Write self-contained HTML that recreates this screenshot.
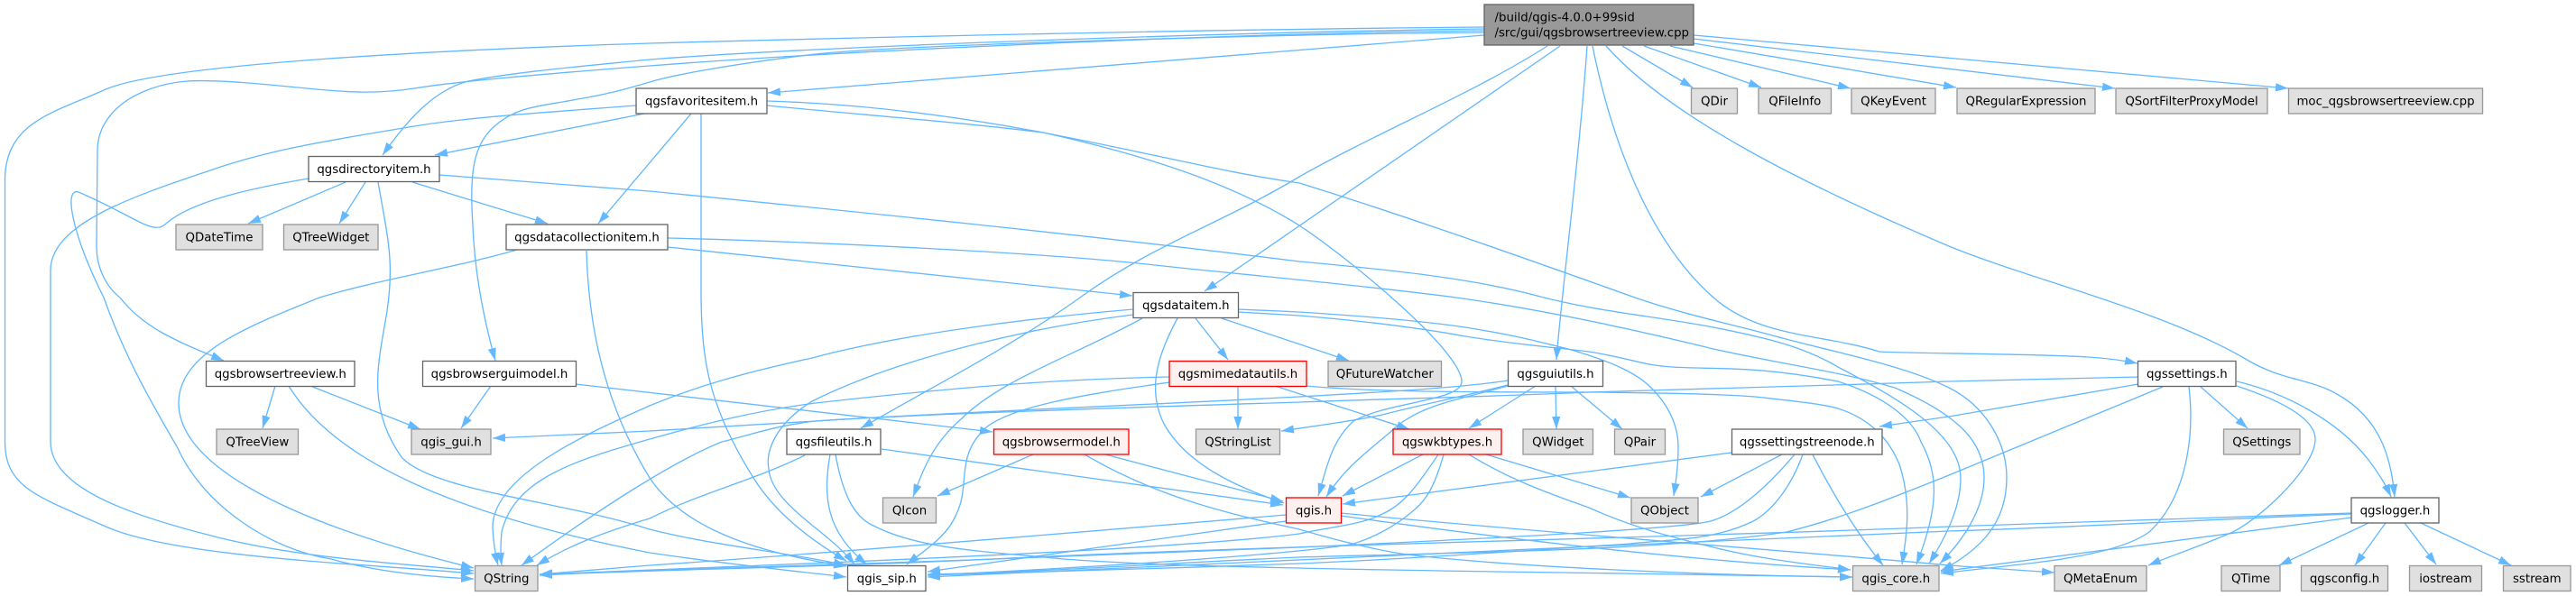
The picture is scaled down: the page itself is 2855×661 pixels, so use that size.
<!DOCTYPE html>
<html><head><meta charset="utf-8"><style>
html,body{margin:0;padding:0;background:#fff;width:2855px;height:661px;overflow:hidden}
svg{display:block}
.e path{fill:none;stroke:#63b8ff;stroke-width:1.33;marker-end:url(#a)}
text{font-family:"DejaVu Sans",sans-serif;font-size:13.33px;fill:#000;text-anchor:middle}
rect{stroke-width:1.33}
.w{fill:#fff;stroke:#666}.g{fill:#e0e0e0;stroke:#999}.r{fill:#fff0f0;stroke:#f00}
</style></head><body>
<svg width="2855" height="661" viewBox="0 0 2855 661" xmlns="http://www.w3.org/2000/svg">
<defs><marker id="a" markerUnits="userSpaceOnUse" markerWidth="15" markerHeight="11" refX="14" refY="5" orient="auto"><path d="M0,0.4L14,5L0,9.6Z" fill="#63b8ff"/></marker></defs>
<g class="e">
<path d="M1877,39L2536,98"/>
<path d="M1877,43L2344,98"/>
<path d="M1877,48L2168,97"/>
<path d="M1851,51L2051,98"/>
<path d="M1822,51L1952,97"/>
<path d="M1798,51L1876,97"/>
<path d="M1780,51C1850,130 2000,205 2160,273C2250,310 2400,345 2492,400C2530,422 2560,420 2590,437C2640,465 2650,510 2654,551"/>
<path d="M1765,51C1785,150 1825,265 1899,330C1950,375 2020,370 2083,390C2110,392 2250,392 2315,396Q2345,398 2369,403"/>
<path d="M1759,51C1750,180 1730,330 1725,399"/>
<path d="M1729,51L1335,323"/>
<path d="M1715,51C1630,105 1530,145 1440,196C1350,250 1280,270 1197,330C1120,385 1040,425 954,475"/>
<path d="M1645,39L851,103"/>
<path d="M1645,36C1400,38 1000,50 904,60C820,70 750,82 720,91C690,100 670,105 640,110C600,118 574,117 548,140C525,160 520,190 524,250C526,300 535,350 549,400"/>
<path d="M1645,34C1400,36 950,55 720,73C590,83 510,90 459,98C420,104 390,103 340,98C290,93 240,88 207,90C150,95 108,125 108,167L107,273C107,300 120,320 133,330C160,365 200,380 248,400"/>
<path d="M1645,32C1350,36 900,52 720,66C640,74 570,80 519,90C480,100 450,135 424,172"/>
<path d="M1645,30C1300,33 900,43 720,48C500,55 180,70 115,100C60,125 5.5,135 5.5,200L5.5,490C5.5,540 40,550 115,583C190,618 400,625 525,636"/>
<path d="M457,202L607,248"/>
<path d="M383,202L275,248"/>
<path d="M405,202L376,248"/>
<path d="M419,202C430,265 437,290 429,345C420,400 405,450 445,507C480,545 620,555 720,587C790,605 870,612 938,627"/>
<path d="M342,198C270,210 210,225 184,248C170,262 150,240 87,213C70,208 80,260 115,330C140,400 170,450 197,497C225,560 300,610 367,620C420,635 480,640 525,642"/>
<path d="M487,194L720,212C950,235 1200,260 1440,290C1550,300 1640,310 1711,330C1780,347 1830,350 1899,363C1960,375 2000,385 2037,407C2100,440 2173,480 2173,530C2173,560 2160,590 2138,625"/>
<path d="M740,274L1255,328"/>
<path d="M740,264C900,268 1150,280 1271,293C1350,302 1500,315 1614,330C1720,345 1830,370 1899,387C1980,405 2040,412 2100,430C2170,460 2199,490 2199,530C2199,565 2175,600 2150,625"/>
<path d="M650,278C652,350 665,440 720,530C760,590 850,615 938,628"/>
<path d="M573,277C500,298 420,310 354,330C280,360 198,390 198,447C198,510 300,575 525,630"/>
<path d="M714,126L482,172"/>
<path d="M766,126L663,248"/>
<path d="M777,126L777,330C778,400 785,450 835,530C860,570 900,600 938,622"/>
<path d="M705,117C600,125 520,130 459,140C370,155 300,165 230,190C140,220 56,250 56,300L56,490C56,540 140,570 230,593C330,620 450,625 525,633"/>
<path d="M850,112C950,115 1050,127 1156,147C1260,170 1360,200 1440,250C1500,290 1620,390 1620,423C1620,445 1540,445 1500,467C1475,490 1470,520 1461,550"/>
<path d="M850,117C950,127 1060,135 1156,147C1300,175 1350,190 1440,203C1560,240 1700,290 1812,330C1870,350 1930,362 1968,373C2030,390 2110,405 2160,430C2200,450 2224,490 2224,530C2224,580 2195,610 2151,633"/>
<path d="M305,428L291,475"/>
<path d="M344,428L466,476"/>
<path d="M320,428C370,510 500,570 720,613C800,625 870,632 938,640"/>
<path d="M544,428L511,475"/>
<path d="M638,426L1100,479"/>
<path d="M1256,343C1150,352 1000,370 900,397C840,410 780,425 720,450C640,485 546,530 546,585Q547,607 552,627"/>
<path d="M1256,349C1150,362 1000,395 900,445C860,470 848,500 852,520C855,560 920,590 947,626"/>
<path d="M1266,353C1190,395 1110,420 1065,465C1030,495 1020,530 1012,551"/>
<path d="M1305,353C1285,390 1270,430 1290,470C1315,515 1370,540 1423,558"/>
<path d="M1325,353L1361,399"/>
<path d="M1354,353L1495,400"/>
<path d="M1372,343L1440,346C1500,350 1570,355 1624,363C1680,372 1710,380 1738,387C1790,402 1815,415 1830,430C1855,455 1860,480 1860,495C1860,515 1858,530 1855,550"/>
<path d="M1372,346L1440,350C1500,355 1570,363 1624,373C1680,382 1720,385 1761,390C1810,398 1820,405 1853,407C1900,410 1945,405 2037,423C2090,440 2120,465 2129,490C2148,525 2150,560 2124,626"/>
<path d="M1296,418C1200,420 1100,425 904,447C840,455 780,470 720,487C640,510 570,530 556,590Q554,610 556,627"/>
<path d="M1296,424C1220,435 1110,450 1087,480C1060,510 1075,540 1060,570C1050,595 1025,610 1005,626"/>
<path d="M1372,428L1372,476"/>
<path d="M1413,428L1562,476"/>
<path d="M1448,428C1520,435 1650,435 1775,435C1830,436 1890,436 1945,440C1990,445 2020,448 2037,453C2075,465 2095,490 2105,515C2120,560 2112,600 2108,626"/>
<path d="M1671,422C1620,430 1530,435 1440,440C1250,450 1000,460 904,467C840,471 780,474 720,478L546,486"/>
<path d="M1671,427C1620,440 1570,450 1532,460C1500,467 1460,472 1420,478"/>
<path d="M1671,428C1610,445 1570,450 1540,480C1510,505 1490,520 1470,551"/>
<path d="M1702,428L1628,475"/>
<path d="M1724,428L1725,476"/>
<path d="M1741,428L1798,476"/>
<path d="M2370,418L2160,423C2000,428 1800,435 1761,435C1650,440 1550,442 1440,446C1250,452 1000,460 904,467C860,472 840,480 800,490C750,510 670,560 578,627"/>
<path d="M2370,426L2160,462L2083,473"/>
<path d="M2397,429L2160,527C2090,555 2040,575 1980,590C1850,610 1650,612 1440,618C1300,624 1150,635 1028,637"/>
<path d="M2439,429L2491,475"/>
<path d="M2479,428C2530,445 2566,465 2566,487C2566,520 2500,580 2470,592C2440,605 2410,615 2381,627"/>
<path d="M2479,423C2530,435 2590,465 2625,510C2640,530 2645,540 2650,551"/>
<path d="M2426,429C2432,480 2425,550 2382,590C2340,620 2240,625 2151,636"/>
<path d="M1919,502L1488,559"/>
<path d="M1975,504L1885,551"/>
<path d="M1989,504C1950,550 1920,570 1899,577C1880,585 1700,595 1440,607C1200,618 800,630 598,637"/>
<path d="M1998,504C1985,540 1965,565 1945,577C1900,600 1850,598 1807,603C1700,610 1560,620 1440,625C1300,630 1150,635 1028,638"/>
<path d="M2009,504Q2045,575 2087,627"/>
<path d="M1577,504L1488,550"/>
<path d="M1594,504C1570,540 1555,560 1532,570C1510,582 1470,585 1440,592C1300,610 900,625 598,637"/>
<path d="M1600,504C1590,540 1580,555 1568,565C1545,585 1520,597 1500,603C1470,610 1300,625 1028,638"/>
<path d="M1628,504C1670,530 1710,545 1761,563C1810,585 1850,595 1899,607C1950,620 2000,625 2051,632"/>
<path d="M1647,504L1807,552"/>
<path d="M1425,571C1200,590 900,615 720,627L598,637"/>
<path d="M1425,578C1300,595 1179,613 1028,634"/>
<path d="M1486,572C1650,595 1850,620 2051,632"/>
<path d="M1486,569C1700,590 2000,612 2160,627L2277,635"/>
<path d="M1145,504L1039,550"/>
<path d="M1225,504L1422,556"/>
<path d="M1202,504C1280,550 1360,570 1440,587C1500,605 1550,615 1578,617C1700,630 1900,638 2053,640"/>
<path d="M892,505C830,535 780,545 720,575C670,590 630,605 595,627"/>
<path d="M920,504C912,550 915,590 961,626"/>
<path d="M926,504C935,555 950,575 968,583C1020,610 1100,612 1179,620C1280,628 1500,632 1800,636L2053,640"/>
<path d="M977,498L1422,560"/>
<path d="M2606,569C2450,574 2300,580 2160,584C1900,595 1400,605 1100,620C900,630 700,632 598,638"/>
<path d="M2606,570C2400,578 2300,585 2160,589C1800,605 1300,625 1028,640"/>
<path d="M2606,574L2151,634"/>
<path d="M2625,580L2526,627"/>
<path d="M2644,580L2610,627"/>
<path d="M2665,580L2700,626"/>
<path d="M2683,580L2783,627"/>
</g>
<g>
<rect x="1645" y="5" width="232" height="45" fill="#999" stroke="#666"/>
<text x="1656.5" y="23.5" style="text-anchor:start">/build/qgis-4.0.0+99sid</text>
<text x="1656.5" y="40.5" style="text-anchor:start">/src/gui/qgsbrowsertreeview.cpp</text>

<rect class="w" x="705" y="98" width="145" height="28"/><text x="777.5" y="116.5">qgsfavoritesitem.h</text>
<rect class="g" x="1874.5" y="98" width="51" height="28"/><text x="1900" y="116.5">QDir</text>
<rect class="g" x="1949" y="98" width="80.5" height="28"/><text x="1989.3" y="116.5">QFileInfo</text>
<rect class="g" x="2052" y="98" width="93" height="28"/><text x="2098.5" y="116.5">QKeyEvent</text>
<rect class="g" x="2169" y="98" width="153" height="28"/><text x="2245.5" y="116.5">QRegularExpression</text>
<rect class="g" x="2345" y="98" width="168" height="28"/><text x="2429" y="116.5">QSortFilterProxyModel</text>
<rect class="g" x="2536.5" y="98" width="215" height="28"/><text x="2644" y="116.5">moc_qgsbrowsertreeview.cpp</text>

<rect class="w" x="342" y="173.5" width="145" height="28"/><text x="414.5" y="192">qgsdirectoryitem.h</text>

<rect class="g" x="195" y="249" width="96" height="28"/><text x="243" y="267.5">QDateTime</text>
<rect class="g" x="314.5" y="249" width="104.5" height="28"/><text x="366.8" y="267.5">QTreeWidget</text>
<rect class="w" x="561" y="249" width="179" height="28"/><text x="650.5" y="267.5">qgsdatacollectionitem.h</text>

<rect class="w" x="1256" y="324.5" width="116.5" height="28"/><text x="1314.3" y="343">qgsdataitem.h</text>

<rect class="w" x="228.5" y="400.5" width="164.5" height="28"/><text x="310.8" y="419">qgsbrowsertreeview.h</text>
<rect class="w" x="468.5" y="400.5" width="170" height="28"/><text x="553.5" y="419">qgsbrowserguimodel.h</text>
<rect class="r" x="1296" y="400.5" width="152" height="28"/><text x="1372" y="419">qgsmimedatautils.h</text>
<rect class="g" x="1472" y="400.5" width="125.5" height="28"/><text x="1534.8" y="419">QFutureWatcher</text>
<rect class="w" x="1671.5" y="400.5" width="105" height="28"/><text x="1724" y="419">qgsguiutils.h</text>
<rect class="w" x="2369.5" y="400.5" width="108.5" height="28"/><text x="2423.8" y="419">qgssettings.h</text>

<rect class="g" x="240" y="476" width="90.5" height="28"/><text x="285.3" y="494.5">QTreeView</text>
<rect class="g" x="456" y="476" width="88" height="28"/><text x="500" y="494.5">qgis_gui.h</text>
<rect class="w" x="872" y="476" width="104" height="28"/><text x="924" y="494.5">qgsfileutils.h</text>
<rect class="r" x="1101.5" y="476" width="149.5" height="28"/><text x="1176.3" y="494.5">qgsbrowsermodel.h</text>
<rect class="g" x="1325.5" y="476" width="93" height="28"/><text x="1372" y="494.5">QStringList</text>
<rect class="r" x="1544" y="476" width="120" height="28"/><text x="1604" y="494.5">qgswkbtypes.h</text>
<rect class="g" x="1688" y="476" width="77.5" height="28"/><text x="1726.8" y="494.5">QWidget</text>
<rect class="g" x="1789.5" y="476" width="56" height="28"/><text x="1817.5" y="494.5">QPair</text>
<rect class="w" x="1919.5" y="476" width="166.5" height="28"/><text x="2002.8" y="494.5">qgssettingstreenode.h</text>
<rect class="g" x="2464.5" y="476" width="84.5" height="28"/><text x="2506.8" y="494.5">QSettings</text>

<rect class="g" x="978.5" y="552" width="59" height="28"/><text x="1008" y="570.5">QIcon</text>
<rect class="r" x="1425.5" y="552" width="61" height="28"/><text x="1456" y="570.5">qgis.h</text>
<rect class="g" x="1808" y="552" width="74" height="28"/><text x="1845" y="570.5">QObject</text>
<rect class="w" x="2606" y="552" width="97" height="28"/><text x="2654.5" y="570.5">qgslogger.h</text>

<rect class="g" x="526.5" y="627.5" width="69.5" height="28"/><text x="561.3" y="646">QString</text>
<rect class="w" x="939.5" y="627.5" width="86.5" height="28"/><text x="982.8" y="646">qgis_sip.h</text>
<rect class="g" x="2053.5" y="627.5" width="95.5" height="28"/><text x="2101.3" y="646">qgis_core.h</text>
<rect class="g" x="2277" y="627.5" width="102" height="28"/><text x="2328" y="646">QMetaEnum</text>
<rect class="g" x="2462" y="627.5" width="65" height="28"/><text x="2494.5" y="646">QTime</text>
<rect class="g" x="2550.5" y="627.5" width="96" height="28"/><text x="2598.5" y="646">qgsconfig.h</text>
<rect class="g" x="2670.5" y="627.5" width="80" height="28"/><text x="2710.5" y="646">iostream</text>
<rect class="g" x="2774.5" y="627.5" width="74.5" height="28"/><text x="2811.8" y="646">sstream</text>
</g>
</svg>
</body></html>
